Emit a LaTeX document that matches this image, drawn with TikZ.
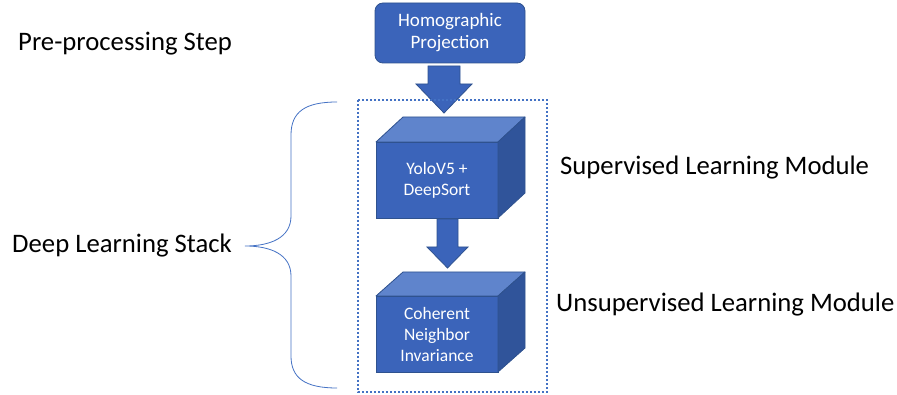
\documentclass[tikz,border=0pt]{standalone}
\usepackage{fontspec}
\setmainfont{Carlito}
\usepackage{tikz}
\usetikzlibrary{positioning}

\definecolor{officeblue}{HTML}{4472C4}
\definecolor{frontblue}{HTML}{3B64BA}
\definecolor{edgeblue}{HTML}{2F528F}
\definecolor{topblue}{HTML}{5F84CC}
\definecolor{sideblue}{HTML}{30549A}

\tikzset{
  frontface/.style={draw=edgeblue, fill=frontblue, line width=0.8pt, text=white,
    minimum width=122pt, minimum height=76pt, inner sep=0pt, outer sep=0pt,
    align=center, font=\fontsize{17.5}{21}\selectfont},
  topface/.style={draw=edgeblue, fill=topblue, line width=0.8pt, line join=round},
  sideface/.style={draw=edgeblue, fill=sideblue, line width=0.8pt, line join=round},
  blockarrow/.style={draw=edgeblue, fill=frontblue, line width=0.8pt},
  sidelabel/.style={anchor=west, inner sep=0pt, font=\fontsize{26.7}{30}\selectfont},
}

\begin{document}
\begin{tikzpicture}[x=1pt, y=-1pt]
  \useasboundingbox (0,0) rectangle (897,395);

  % pre-processing box
  \node[draw=edgeblue, fill=frontblue, line width=0.8pt, rounded corners=8pt, text=white,
        minimum width=150pt, minimum height=60pt, align=center,
        font=\fontsize{19}{22}\selectfont] (homo) at (450,33) {Homographic\\Projection};

  % first block arrow
  \draw[blockarrow] (428,66) -- (460,66) -- (460,84) -- (472,84) -- (444,113)
    -- (416,84) -- (428,84) -- cycle;

  % dotted frame round the stack
  \draw[officeblue, dotted, line width=2pt] (358,100) rectangle (547,392);

  % supervised cube
  \node[frontface] (yolo) at (437,180) {YoloV5 +\\DeepSort};
  \filldraw[topface] (yolo.north west) -- ++(27,-25) -- ([shift={(27,-25)}]yolo.north east)
    -- (yolo.north east) -- cycle;
  \filldraw[sideface] (yolo.north east) -- ++(27,-25) -- ([shift={(27,-25)}]yolo.south east)
    -- (yolo.south east) -- cycle;

  % second block arrow
  \draw[blockarrow] (437,219) -- (458,219) -- (458,247) -- (468,247) -- (447.5,268)
    -- (427,247) -- (437,247) -- cycle;

  % unsupervised cube
  \node[frontface] (cni) at (437,334) {Coherent\\Neighbor\\Invariance};
  \filldraw[topface] (cni.north west) -- ++(27,-24) -- ([shift={(27,-24)}]cni.north east)
    -- (cni.north east) -- cycle;
  \filldraw[sideface] (cni.north east) -- ++(27,-24) -- ([shift={(27,-24)}]cni.south east)
    -- (cni.south east) -- cycle;

  % brace
  \coordinate (bracetip) at (245,246);
  \draw[officeblue, line width=0.8pt] (337,102) .. controls (305,102) and (291,112) .. (291,135)
    -- (291,216) .. controls (291,238) and (270,246) .. (bracetip)
    .. controls (270,246) and (291,254) .. (291,276)
    -- (291,356) .. controls (291,378) and (305,388) .. (337,388);

  % labels
  \node[sidelabel] (pre) at (18,44) {Pre-processing Step};
  \node[sidelabel, anchor=east] (dls) at (bracetip) [xshift=-13pt] {Deep Learning Stack};
  \node[sidelabel] (sup) at (560,168) {Supervised Learning Module};
  \node[sidelabel] (unsup) at (556,305) {Unsupervised Learning Module};
\end{tikzpicture}
\end{document}
